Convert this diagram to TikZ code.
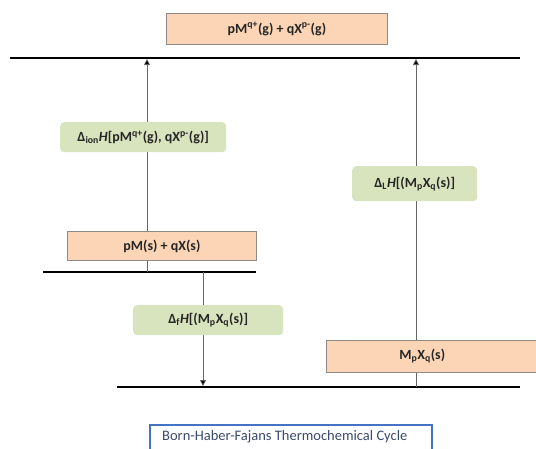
\documentclass[tikz,border=0pt]{standalone}
\usepackage{fontspec}
\setmainfont{Carlito}
\usetikzlibrary{arrows.meta}
\definecolor{peach}{HTML}{FBD5B5}
\definecolor{peachborder}{HTML}{8E8A86}
\definecolor{lgreen}{HTML}{D7E4BD}
\definecolor{txt}{HTML}{262626}
\definecolor{capblue}{HTML}{4472C4}
\definecolor{captxt}{HTML}{3A4A6B}
\tikzset{
  level/.style={line width=2.8pt, black},
  species/.style={draw=peachborder, line width=0.8pt, fill=peach, text=txt, font=\bfseries\fontsize{14}{16}\selectfont, inner sep=0pt, anchor=north west},
  enth/.style={fill=lgreen, rounded corners=4pt, text=txt, font=\bfseries\fontsize{14}{16}\selectfont, inner sep=0pt, anchor=north west},
  conn/.style={draw=gray!80!black, line width=0.7pt, -{Triangle[length=6pt,width=6pt,fill=black]}},
}
\begin{document}
\begin{tikzpicture}[x=1pt,y=-1pt]
\useasboundingbox (0,0) rectangle (536,448);
% levels
\coordinate (t1) at (10,58);  \coordinate (t2) at (520,58);
\coordinate (m1) at (43,272); \coordinate (m2) at (256,272);
\coordinate (b1) at (117,387); \coordinate (b2) at (520,387);
\draw[level] (t1) -- (t2);
\draw[level] (m1) -- (m2);
\draw[level] (b1) -- (b2);
% arrow anchor coordinates
\coordinate (aLs) at (147,272); \coordinate (aLe) at (147,59);
\coordinate (aDs) at (203,272); \coordinate (aDe) at (203,386);
\coordinate (aRs) at (416,387); \coordinate (aRe) at (416,59);
\draw[conn] (aLs) -- (aLe);
\draw[conn] (aDs) -- (aDe);
\draw[conn] (aRs) -- (aRe);
% species boxes
\node[species, minimum width=221pt, minimum height=31pt] (top) at (166,13) {pM\textsuperscript{q+}(g) + qX\textsuperscript{p-}(g)};
\node[species, minimum width=189pt, minimum height=29pt] (mid) at (67,231) {pM(s) + qX(s)};
\node[species, minimum width=210pt, minimum height=32pt, text width=210pt, align=left] (bot) at (326,340) {\hspace*{73pt}M\textsubscript{p}X\textsubscript{q}(s)};
% enthalpy labels
\node[enth, minimum width=166pt, minimum height=30pt] (ion) at (60,122) {Δ\textsubscript{ion}\textit{H}[pM\textsuperscript{q+}(g), qX\textsuperscript{p-}(g)]};
\node[enth, minimum width=125pt, minimum height=35pt] (lat) at (352,166) {Δ\textsubscript{L}\textit{H}[(M\textsubscript{p}X\textsubscript{q}(s)]};
\node[enth, minimum width=150pt, minimum height=30pt] (form) at (133,305) {Δ\textsubscript{f}\textit{H}[(M\textsubscript{p}X\textsubscript{q}(s)]};
% caption
\draw[capblue, line width=1.6pt] (150,452) -- (150,425) -- (432,425) -- (432,452);
\node[text=captxt, font=\fontsize{14.5}{16}\selectfont, anchor=west, inner sep=0pt] (cap) at (162,437) {Born-Haber-Fajans Thermochemical Cycle};
\end{tikzpicture}
\end{document}
